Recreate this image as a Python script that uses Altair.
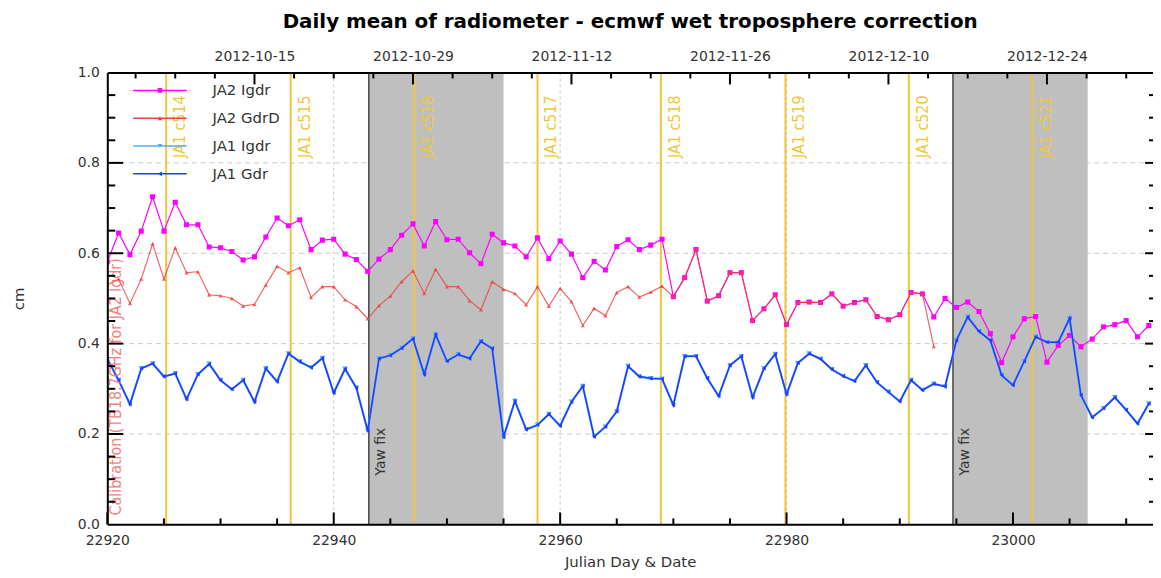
import altair as alt
import pandas as pd
import datetime as dt

# ---------------- data ----------------
start_day = 22920
ja2_igdr = [0.581, 0.645, 0.597, 0.649, 0.725, 0.649, 0.713, 0.663, 0.663, 0.614,
            0.612, 0.604, 0.585, 0.592, 0.636, 0.678, 0.661, 0.674, 0.608, 0.629,
            0.631, 0.598, 0.586, 0.560, 0.587, 0.608, 0.640, 0.665, 0.616, 0.670,
            0.630, 0.631, 0.601, 0.577, 0.642, 0.623, 0.616, 0.592, 0.634, 0.588,
            0.627, 0.598, 0.546, 0.582, 0.563, 0.615, 0.630, 0.608, 0.618, 0.631,
            0.504, 0.546, 0.608, 0.494, 0.506, 0.557, 0.557, 0.451, 0.477, 0.508,
            0.442, 0.491, 0.492, 0.491, 0.510, 0.483, 0.491, 0.497, 0.460, 0.453,
            0.464, 0.513, 0.510, 0.459, 0.500, 0.480, 0.492, 0.471, 0.422, 0.358,
            0.415, 0.455, 0.460, 0.359, 0.396, 0.418, 0.393, 0.410, 0.437, 0.442,
            0.451, 0.415, 0.440]
ja2_gdrd = [0.530, 0.543, 0.489, 0.543, 0.621, 0.543, 0.612, 0.557, 0.559, 0.508,
            0.506, 0.500, 0.483, 0.487, 0.530, 0.571, 0.557, 0.568, 0.502, 0.526,
            0.526, 0.497, 0.482, 0.455, 0.484, 0.505, 0.537, 0.561, 0.511, 0.564,
            0.526, 0.526, 0.495, 0.475, 0.537, 0.520, 0.511, 0.486, 0.526, 0.483,
            0.522, 0.493, 0.440, 0.478, 0.462, 0.513, 0.526, 0.503, 0.514, 0.527,
            0.504, 0.546, 0.608, 0.494, 0.506, 0.557, 0.557, 0.451, 0.477, 0.508,
            0.442, 0.491, 0.492, 0.491, 0.510, 0.483, 0.491, 0.497, 0.460, 0.453,
            0.464, 0.513, 0.510, 0.394]
ja1_gdr = [0.366, 0.319, 0.266, 0.345, 0.356, 0.327, 0.334, 0.277, 0.332, 0.355,
           0.319, 0.299, 0.319, 0.271, 0.345, 0.316, 0.378, 0.360, 0.347, 0.368,
           0.291, 0.344, 0.302, 0.207, 0.367, 0.374, 0.390, 0.411, 0.332, 0.420,
           0.361, 0.376, 0.367, 0.405, 0.389, 0.193, 0.273, 0.210, 0.220, 0.244,
           0.218, 0.271, 0.306, 0.194, 0.216, 0.250, 0.350, 0.327, 0.323, 0.322,
           0.264, 0.372, 0.372, 0.323, 0.284, 0.352, 0.372, 0.281, 0.345, 0.377,
           0.288, 0.357, 0.378, 0.366, 0.343, 0.328, 0.317, 0.352, 0.314, 0.293,
           0.272, 0.319, 0.297, 0.311, 0.305, 0.407, 0.459, 0.427, 0.407, 0.330,
           0.308, 0.361, 0.415, 0.403, 0.403, 0.456, 0.286, 0.237, 0.257, 0.281,
           0.253, 0.223, 0.267]
# JA1 Igdr lies under JA1 Gdr in the picture (same positions)
ja1_igdr = list(ja1_gdr)

cycle_days = [22925.2, 22936.2, 22947.1, 22958.0, 22968.9, 22979.9, 22990.8, 23001.7]
cycle_labels = ["JA1 c514", "JA1 c515", "JA1 c516", "JA1 c517",
                "JA1 c518", "JA1 c519", "JA1 c520", "JA1 c521"]
yaw_start = [22943.1, 22994.7]
yaw_end = [22955.0, 23006.6]
yaw_labels = ["Yaw fix", "Yaw fix"]
calib_label = "Calibration (TB18.7GHz for JA2 Igdr)"

bottom_ticks = [22920, 22940, 22960, 22980, 23000]
top_labels = ["2012-10-15", "2012-10-29", "2012-11-12", "2012-11-26",
              "2012-12-10", "2012-12-24"]
y_ticks = [0.0, 0.2, 0.4, 0.6, 0.8, 1.0]

series_names = ["JA2 Igdr", "JA2 GdrD", "JA1 Igdr", "JA1 Gdr"]
series_colors = ["#ff00ff", "#f04040", "#55aaff", "#1f3cff"]
series_shapes = ["square", "triangle-up", "triangle-down", "triangle-left"]

# ---------------- layout ----------------
W, H = 1053, 455
PX_PER_DAY = 11.4
x_end = start_day + W / PX_PER_DAY
FONT = "DejaVu Sans"
NARROW = "Liberation Sans Narrow, DejaVu Sans Condensed, DejaVu Sans"
YELLOW = "#f2c53d"

epoch = dt.date(1950, 1, 1)
top_ticks = [(dt.date.fromisoformat(s) - epoch).days for s in top_labels]
label_expr = "".join(f"datum.value == {v} ? '{s}' : " for v, s in zip(top_ticks, top_labels)) + "''"

xs = alt.Scale(domain=[start_day, x_end], nice=False, zero=False)
ys = alt.Scale(domain=[0, 1], nice=False, zero=False)

bottom_minor = [d for d in range(22920, 23015, 5) if d not in bottom_ticks]
top_minor = []
k = top_ticks[0] - 3.5 * 3
while k < x_end:
    if k not in top_ticks and k >= start_day:
        top_minor.append(k)
    k += 3.5
y_minor = [round(v * 0.05, 2) for v in range(1, 20) if v % 4 != 0]

def xq(f):
    return alt.X(f, type="quantitative", scale=xs, axis=None)

def yq(f):
    return alt.Y(f, type="quantitative", scale=ys, axis=None)

# grid + axes carriers
vgrid = alt.Chart(pd.DataFrame({"x": bottom_ticks[1:]})).mark_rule(
    color="#c8c8c8", strokeDash=[3, 3], strokeWidth=1
).encode(
    x=alt.X("x:Q", scale=xs, axis=alt.Axis(
        orient="bottom", values=bottom_ticks, format="d", ticks=False, tickSize=0,
        grid=False, labelFlush=False, labelOverlap=False, labelPadding=9,
        labelFont=FONT, labelFontSize=14, labelColor="#333",
        domainColor="black", domainWidth=2, zindex=1,
        title="Julian Day & Date", titleFont=FONT, titleFontSize=15,
        titleFontWeight="normal", titleColor="#333", titleY=42, titleBaseline="alphabetic"))
)
hgrid = alt.Chart(pd.DataFrame({"y": y_ticks[1:-1]})).mark_rule(
    color="#c8c8c8", strokeDash=[5, 4], strokeWidth=1
).encode(
    y=alt.Y("y:Q", scale=ys, axis=alt.Axis(
        orient="left", values=y_ticks, format=".1f", ticks=False, tickSize=0,
        grid=False, labelFlush=False, labelOverlap=False, labelPadding=8,
        labelFont=FONT, labelFontSize=14, labelColor="#333",
        domainColor="black", domainWidth=2, zindex=1,
        title="cm", titleFont=FONT, titleFontSize=15, titleFontWeight="normal",
        titleColor="#333", titleX=-89, titleY=H / 2, titleAngle=270,
        titleAlign="center", titleBaseline="middle"))
)

yaw_df = pd.DataFrame({"s": yaw_start, "e": yaw_end, "t": yaw_labels})
yaw_rect = alt.Chart(yaw_df).mark_rect(color="#bfbfbf").encode(
    x=xq("s"), x2="e", y=alt.value(0), y2=alt.value(H))
yaw_edge = alt.Chart(yaw_df).mark_rule(color="#444", strokeWidth=1.5).encode(x=xq("s"))
yaw_text = alt.Chart(yaw_df).mark_text(
    angle=270, align="left", baseline="top", dy=5, font=FONT, fontSize=14, color="#333"
).encode(x=xq("s"), y=alt.value(406), text="t:N")

cyc_df = pd.DataFrame({"d": cycle_days, "t": cycle_labels})
cyc_rule = alt.Chart(cyc_df).mark_rule(color=YELLOW, strokeWidth=2).encode(x=xq("d"))
cyc_text = alt.Chart(cyc_df).mark_text(
    angle=270, align="left", baseline="top", dy=6, font=NARROW, fontSize=16, color=YELLOW
).encode(x=xq("d"), y=alt.value(86), text="t:N")

calib = alt.Chart(pd.DataFrame({"t": [calib_label]})).mark_text(
    angle=270, align="left", baseline="top", dy=1, font=NARROW, fontSize=16,
    color="#f06a6a", opacity=0.85
).encode(x=alt.value(0), y=alt.value(446), text="t:N")

def series(vals, idx, size, sw, opacity=1.0):
    df = pd.DataFrame({"d": list(range(start_day, start_day + len(vals))), "v": vals})
    base = alt.Chart(df).encode(x=xq("d"), y=yq("v"))
    line = base.mark_line(color=series_colors[idx], strokeWidth=sw, opacity=opacity, clip=True)
    pts = base.mark_point(shape=series_shapes[idx], filled=True, size=size,
                          color=series_colors[idx], opacity=opacity, clip=True)
    return line + pts

s_mag = series(ja2_igdr, 0, 26, 1.2)
s_red = series(ja2_gdrd, 1, 18, 1.2, 0.8)
s_lb = series(ja1_igdr, 2, 30, 2.2)
s_blue = series(ja1_gdr, 3, 18, 1.5)

# legend
one = pd.DataFrame({"a": [0]})
legend_layers = []
for i, (nm, col, shp) in enumerate(zip(series_names, series_colors, series_shapes)):
    yy = 18 + 28 * i
    legend_layers.append(alt.Chart(one).mark_rule(color=col, strokeWidth=1.5).encode(
        x=alt.value(26), x2=alt.value(80), y=alt.value(yy)))
    legend_layers.append(alt.Chart(one).mark_point(shape=shp, filled=True, size=22, color=col, opacity=1).encode(
        x=alt.value(53), y=alt.value(yy)))
    legend_layers.append(alt.Chart(pd.DataFrame({"t": [nm]})).mark_text(
        align="left", baseline="middle", font=FONT, fontSize=15, color="#333").encode(
        x=alt.value(106), y=alt.value(yy), text="t:N"))

# inward ticks
tk = "black"
b_major = alt.Chart(pd.DataFrame({"x": bottom_ticks})).mark_rule(color=tk, strokeWidth=2).encode(
    x=xq("x"), y=alt.value(H), y2=alt.value(H - 12))
b_minor = alt.Chart(pd.DataFrame({"x": bottom_minor})).mark_rule(color=tk, strokeWidth=2).encode(
    x=xq("x"), y=alt.value(H), y2=alt.value(H - 6))
t_major = alt.Chart(pd.DataFrame({"x": top_ticks})).mark_rule(color=tk, strokeWidth=2).encode(
    x=alt.X("x:Q", scale=xs, axis=alt.Axis(
        orient="top", values=top_ticks, labelExpr=label_expr, ticks=False, tickSize=0,
        grid=False, labelFlush=False, labelOverlap=False, labelPadding=9,
        labelFont=FONT, labelFontSize=14, labelColor="#333",
        domainColor="black", domainWidth=2, zindex=1, title=None)),
    y=alt.value(0), y2=alt.value(12))
t_minor = alt.Chart(pd.DataFrame({"x": top_minor})).mark_rule(color=tk, strokeWidth=2).encode(
    x=xq("x"), y=alt.value(0), y2=alt.value(6))
l_major = alt.Chart(pd.DataFrame({"y": y_ticks[1:-1]})).mark_rule(color=tk, strokeWidth=2).encode(
    y=yq("y"), x=alt.value(0), x2=alt.value(16))
l_minor = alt.Chart(pd.DataFrame({"y": y_minor})).mark_rule(color=tk, strokeWidth=2).encode(
    y=yq("y"), x=alt.value(0), x2=alt.value(8))
r_major = alt.Chart(pd.DataFrame({"y": y_ticks[1:-1]})).mark_rule(color=tk, strokeWidth=2).encode(
    y=yq("y"), x=alt.value(W), x2=alt.value(W - 8))
r_minor = alt.Chart(pd.DataFrame({"y": y_minor})).mark_rule(color=tk, strokeWidth=2).encode(
    y=yq("y"), x=alt.value(W), x2=alt.value(W - 4))

chart = alt.layer(
    vgrid, hgrid, yaw_rect, yaw_edge, cyc_rule,
    s_mag, s_red, s_lb, s_blue,
    cyc_text, yaw_text, calib,
    *legend_layers,
    b_major, b_minor, t_major, t_minor, l_major, l_minor, r_major, r_minor,
).resolve_axis(x="independent", y="independent").properties(
    width=W, height=H,
    autosize=alt.AutoSizeParams(type="none"),
    padding={"left": 100, "top": 63, "right": 0, "bottom": 44},
    title=alt.TitleParams(
        "Daily mean of radiometer - ecmwf wet troposphere correction",
        font=FONT, fontSize=20, fontWeight="bold", color="black",
        anchor="middle", offset=18),
).configure_view(stroke=None)

chart.save("out.html", embed_options={"renderer": "svg", "actions": False})
